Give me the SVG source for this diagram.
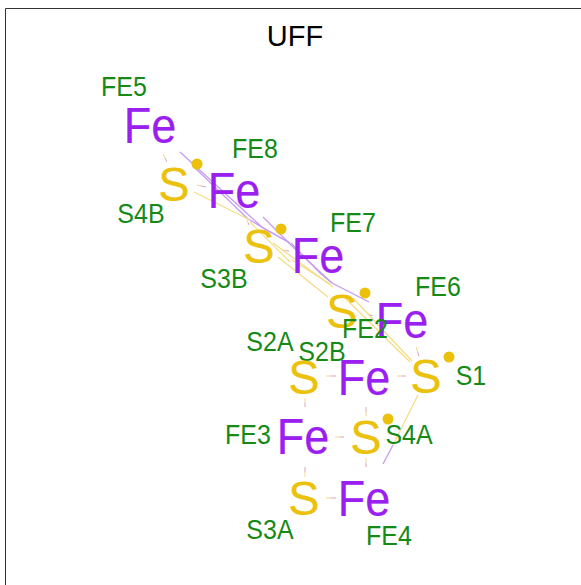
<svg xmlns="http://www.w3.org/2000/svg" width="581" height="585" viewBox="0 0 581 585">
<style>
text{font-family:"Liberation Sans",Arial,sans-serif;text-anchor:middle;transform-box:fill-box;transform-origin:center}
.fe{font-size:45px;fill:#9a1ff0;stroke:#9a1ff0;stroke-width:.2;transform:translateY(1.500px) scale(1,1.09)}
.s{font-size:47px;fill:#ecc10b;stroke:#ecc10b;stroke-width:.2;transform:translateY(2px) scale(1,1.04)}
.l{font-size:25px;fill:#158a15;transform:translateY(-1px) scale(1,1.07)}
.t{font-size:29px;fill:#000}
.dot{fill:#ecc10b}
.y{stroke:#f5dc80;stroke-width:1.2;fill:none}
.p{stroke:#c79bf2;stroke-width:1.3;fill:none}
.sy{stroke:#f3d98a;stroke-width:1;fill:none}
.sp{stroke:#d9a3c4;stroke-width:1;fill:none}
</style>
<rect width="581" height="585" fill="#fff"/>
<path d="M5.500 585V8.500H581" fill="none" stroke="#333" stroke-width="1"/>
<text class="t" x="295" y="46">UFF</text>
<g id="connectors">
<path class="p" d="M180 152L263 228L290 243"/>
<path class="p" d="M193 166L248 219L290 243"/>
<path class="p" d="M263 217L293 247L332 283L369 302"/>
<path class="p" d="M291 243L320 273L332 283"/>
<path class="p" d="M393 445L383 464"/>
<path class="y" d="M194 192L250 220"/>
<path class="y" d="M273 243L333 287"/>
<path class="y" d="M278 257L328 297"/>
<path class="y" d="M292 260L330 284"/>
<path class="y" d="M250 222L290 262"/>
<path class="y" d="M353 298L412 361"/>
<path class="y" d="M345 298L410 362"/>
<path class="y" d="M418 395L393 445"/>
<path class="sy" d="M163 154L165 158M197 185L201 186M283 250L286 250.500M368 314L370 315M416 347L417.500 351.500M247 220L248 222.500M326 376L331 376M397 376L401.500 376M335 437L339.500 437M326 498L331 498M305 398V402.500M366 412V416M366 458V462.500M305 472V477"/>
<path class="sp" d="M165 158L167 162M201 186L206 187M286 250.500L289 251M370 315L373 316M417.500 351.500L419 356M248 222.500L249 225M331 376L336 376M401.500 376L406 376M339.500 437L344 437M331 498L336 498M305 402.500V407M366 407V412M366 462.500V467M305 467V472"/>
</g>
<g id="FE5"><text class="fe" x="150" y="140">Fe</text><text class="l" x="124" y="96">FE5</text></g>
<g id="S4B"><text class="s" x="174" y="198">S</text><circle class="dot" cx="197" cy="164" r="5.500"/><text class="l" x="141" y="223">S4B</text></g>
<g id="FE8"><text class="fe" x="234" y="205">Fe</text><text class="l" x="255" y="158">FE8</text></g>
<g id="S3B"><text class="s" x="259" y="260">S</text><circle class="dot" cx="281" cy="229" r="5.500"/><text class="l" x="224" y="288">S3B</text></g>
<g id="FE7"><text class="fe" x="318" y="270">Fe</text><text class="l" x="353" y="232">FE7</text></g>
<g id="S2B"><text class="s" x="342" y="325">S</text><circle class="dot" cx="365" cy="293" r="5.500"/><text class="l" x="322" y="361">S2B</text></g>
<g id="FE6"><text class="fe" x="402" y="335">Fe</text><text class="l" x="438" y="296">FE6</text></g>
<g id="S1"><text class="s" x="426" y="390">S</text><circle class="dot" cx="449" cy="357" r="5.500"/><text class="l" x="471" y="385">S1</text></g>
<g id="FE2"><text class="fe" x="364" y="392">Fe</text><text class="l" x="365" y="338">FE2</text></g>
<g id="S2A"><text class="s" x="304" y="391">S</text><text class="l" x="270" y="351">S2A</text></g>
<g id="FE3"><text class="fe" x="303" y="451">Fe</text><text class="l" x="248" y="444">FE3</text></g>
<g id="S4A"><text class="s" x="366" y="451">S</text><circle class="dot" cx="388" cy="419" r="5.500"/><text class="l" x="409" y="444">S4A</text></g>
<g id="S3A"><text class="s" x="304" y="512">S</text><text class="l" x="270" y="539">S3A</text></g>
<g id="FE4"><text class="fe" x="364" y="513">Fe</text><text class="l" x="389" y="545">FE4</text></g>
</svg>
